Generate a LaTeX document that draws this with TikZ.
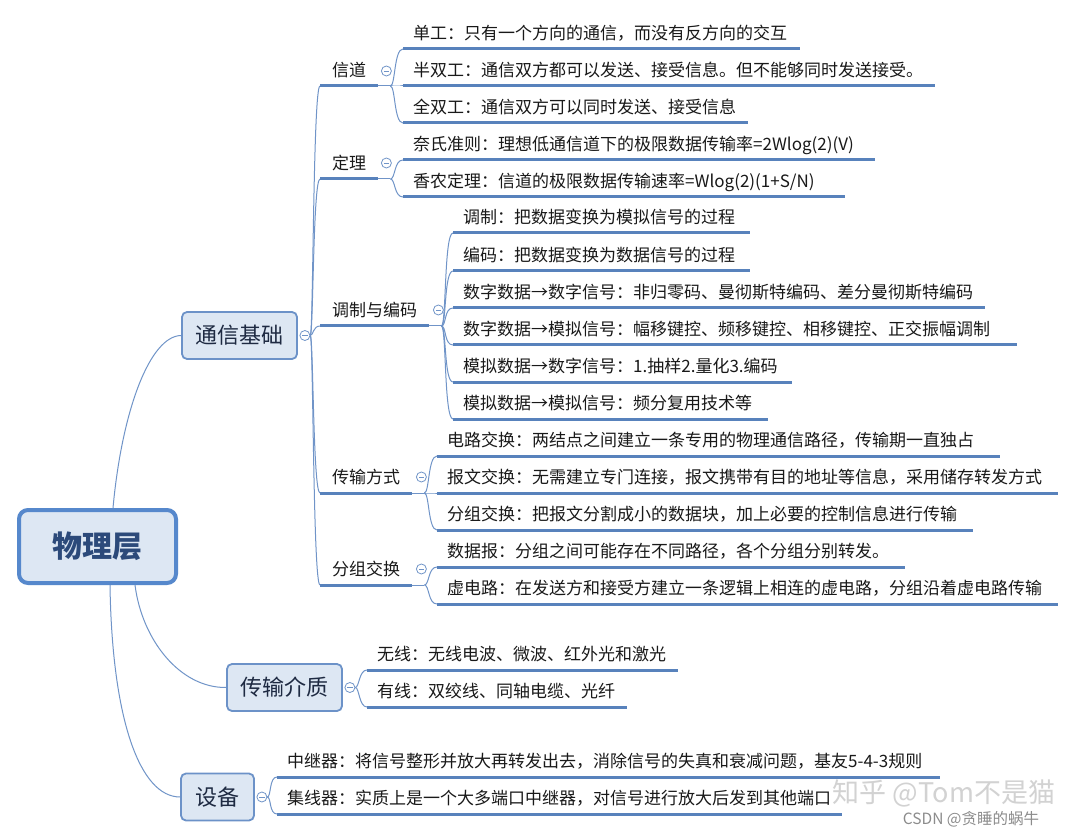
\documentclass[tikz,border=0pt]{standalone}
\usepackage{fontspec}
\setmainfont{Noto Sans CJK SC}
\usetikzlibrary{calc}
\definecolor{conncol}{RGB}{112,148,200}
\definecolor{ulcol}{RGB}{88,130,188}
\definecolor{boxfill}{RGB}{221,231,243}
\definecolor{boxdraw}{RGB}{108,146,200}
\definecolor{rootdraw}{RGB}{86,136,204}
\definecolor{roottext}{RGB}{44,74,122}
\definecolor{lonetext}{RGB}{30,42,66}
\definecolor{leaftext}{RGB}{25,25,25}
\definecolor{wmcol}{RGB}{210,210,210}
\definecolor{wmcoltwo}{RGB}{140,140,140}
\pgfdeclarelayer{bgfill}
\pgfdeclarelayer{lines}
\pgfsetlayers{bgfill,lines,main}
\begin{document}
\begin{tikzpicture}[x=1pt,y=-1pt,
  rootbox/.style={draw=rootdraw, line width=4pt, fill=boxfill, rounded corners=9pt,
    minimum width=157pt, minimum height=73pt, inner sep=0pt, text=roottext,
    font=\fontsize{30}{34}\selectfont\bfseries},
  topicbox/.style={draw=boxdraw, line width=1.8pt, fill=boxfill, rounded corners=5pt,
    minimum height=47pt, inner xsep=13pt, text=lonetext, font=\fontsize{22}{26}\selectfont},
  sub/.style={anchor=south west, inner xsep=12pt, inner ysep=9.5pt, text height=12pt,
    text depth=0pt, text=leaftext, font=\fontsize{17}{20}\selectfont},
  leaf/.style={anchor=south west, inner xsep=10pt, inner ysep=9.5pt, text height=12pt,
    text depth=0pt, text width=#1, align=left, text=leaftext, font=\fontsize{17}{20}\selectfont},
  uline/.style={draw=ulcol, line width=3pt},
  conn/.style={draw=conncol, line width=1pt},
  collapse/.style={circle, draw=conncol, line width=0.8pt, fill=white, minimum size=10pt, inner sep=0pt,
    path picture={\draw[conncol, line width=0.8pt] ([xshift=-2.6pt]path picture bounding box.center) -- ([xshift=2.6pt]path picture bounding box.center);}},
  wmbig/.style={text=wmcol, font=\fontsize{27}{30}\selectfont, inner sep=0pt},
  wmsmall/.style={text=wmcoltwo, font=\fontsize{15.5}{18}\selectfont, inner sep=0pt}
]
\useasboundingbox (0,0) rectangle (1072,837);
\begin{pgfonlayer}{bgfill}
\fill[white] (0,0) rectangle (1072,837);
\end{pgfonlayer}

% watermark
\node[wmbig] (wma) at (944,793) {知乎 @Tom不是猫};
\node[wmsmall] (wmb) at (971,819) {CSDN @贪睡的蜗牛};

% root and main topics
\node[rootbox] (root) at (97.5,546.5) {物理层};
\node[topicbox, minimum width=115pt] (txjc) at (239.5,335.5) {通信基础};
\node[topicbox, minimum width=115pt] (csjz) at (284.5,687.5) {传输介质};
\node[topicbox, minimum width=73pt] (sb) at (217.5,797) {设备};

% level 2
\node[sub] (xd) at (320,86) {信道};
\node[sub] (dl) at (320,179) {定理};
\node[sub] (tzbm) at (320,326) {调制与编码};
\node[sub] (csfs) at (320,493) {传输方式};
\node[sub] (fzjh) at (320,585) {分组交换};

% leaves
\node[leaf=377pt] (a1) at (403,49) {单工：只有一个方向的通信，而没有反方向的交互};
\node[leaf=512pt] (a2) at (403,86) {半双工：通信双方都可以发送、接受信息。但不能够同时发送接受。};
\node[leaf=325pt] (a3) at (403,123) {全双工：通信双方可以同时发送、接受信息};
\node[leaf=452pt] (b1) at (403,160) {奈氏准则：理想低通信道下的极限数据传输率=2Wlog(2)(V)};
\node[leaf=422pt] (b2) at (403,197) {香农定理：信道的极限数据传输速率=Wlog(2)(1+S/N)};
\node[leaf=277pt] (c1) at (453,233) {调制：把数据变换为模拟信号的过程};
\node[leaf=277pt] (c2) at (453,271) {编码：把数据变换为数据信号的过程};
\node[leaf=512pt] (c3) at (453,308) {数字数据→数字信号：非归零码、曼彻斯特编码、差分曼彻斯特编码};
\node[leaf=544pt] (c4) at (453,345) {数字数据→模拟信号：幅移键控、频移键控、相移键控、正交振幅调制};
\node[leaf=319pt] (c5) at (453,382) {模拟数据→数字信号：1.抽样2.量化3.编码};
\node[leaf=295pt] (c6) at (453,419) {模拟数据→模拟信号：频分复用技术等};
\node[leaf=543pt] (d1) at (437,456) {电路交换：两结点之间建立一条专用的物理通信路径，传输期一直独占};
\node[leaf=601pt] (d2) at (437,493) {报文交换：无需建立专门连接，报文携带有目的地址等信息，采用储存转发方式};
\node[leaf=516pt] (d3) at (437,530) {分组交换：把报文分割成小的数据块，加上必要的控制信息进行传输};
\node[leaf=448pt] (e1) at (437,567) {数据报：分组之间可能存在不同路径，各个分组分别转发。};
\node[leaf=601pt] (e2) at (437,604) {虚电路：在发送方和接受方建立一条逻辑上相连的虚电路，分组沿着虚电路传输};
\node[leaf=291pt] (f1) at (367,670) {无线：无线电波、微波、红外光和激光};
\node[leaf=240pt] (f2) at (367,707) {有线：双绞线、同轴电缆、光纤};
\node[leaf=643pt] (g1) at (277,777) {\mbox{中继器：将信号整形并放大再转发出去，消除信号的失真和衰减问题，基友5-4-3规则}};
\node[leaf=545pt] (g2) at (277,814) {集线器：实质上是一个大多端口中继器，对信号进行放大后发到其他端口};

% underlines
\foreach \n in {xd,dl,tzbm,csfs,fzjh,a1,a2,a3,b1,b2,c1,c2,c3,c4,c5,c6,d1,d2,d3,e1,e2,f1,f2,g1,g2}
  \draw[uline] (\n.south west) -- (\n.south east);

% collapse markers
\node[collapse] (k1) at ($(txjc.east)+(7,0)$) {};
\node[collapse] (k2) at ($(csjz.east)+(7,0)$) {};
\node[collapse] (k3) at ($(sb.east)+(7,0)$) {};
\node[collapse] (kxd) at ($(xd.south east)+(8,-15)$) {};
\node[collapse] (kdl) at ($(dl.south east)+(8,-16)$) {};
\node[collapse] (ktzbm) at ($(tzbm.south east)+(9,-16)$) {};
\node[collapse] (kcsfs) at ($(csfs.south east)+(9,-16)$) {};
\node[collapse] (kfzjh) at ($(fzjh.south east)+(9,-16)$) {};

% fan origins
\coordinate (xdF) at ($(xd.south east)+(12,0)$);
\coordinate (dlF) at ($(dl.south east)+(12,0)$);
\coordinate (tzbmF) at ($(tzbm.south east)+(12,0)$);
\coordinate (csfsF) at ($(csfs.south east)+(12,0)$);
\coordinate (fzjhF) at ($(fzjh.south east)+(12,0)$);

\begin{pgfonlayer}{lines}
% root connectors
\draw[conn] ([xshift=15.5pt]root.north) .. controls (122,410) and (150,336) .. (txjc.west);
\draw[conn] ([xshift=37.5pt]root.south) .. controls (142,640) and (180,688) .. (csjz.west);
\draw[conn] ([xshift=12.5pt]root.south) .. controls (112,720) and (140,797) .. (sb.west);
% main topic fans
\foreach \n in {xd,dl,tzbm,csfs,fzjh}
  \draw[conn] (k1.east) .. controls +(3,0) and +(-7,0) .. (\n.south west);
\foreach \n in {f1,f2}
  \draw[conn] (k2.east) .. controls +(4,0) and +(-8,0) .. (\n.south west);
\foreach \n in {g1,g2}
  \draw[conn] (k3.east) .. controls +(4,0) and +(-8,0) .. (\n.south west);
% level 2 fans
\draw[conn] (xd.south east) -- (xdF);
\foreach \n in {a1,a2,a3}
  \draw[conn] (xdF) .. controls +(5,0) and +(-9,0) .. (\n.south west);
\draw[conn] (dl.south east) -- (dlF);
\foreach \n in {b1,b2}
  \draw[conn] (dlF) .. controls +(5,0) and +(-9,0) .. (\n.south west);
\draw[conn] (tzbm.south east) -- (tzbmF);
\foreach \n in {c1,c2,c3,c4,c5,c6}
  \draw[conn] (tzbmF) .. controls +(5,0) and +(-9,0) .. (\n.south west);
\draw[conn] (csfs.south east) -- (csfsF);
\foreach \n in {d1,d2,d3}
  \draw[conn] (csfsF) .. controls +(5,0) and +(-9,0) .. (\n.south west);
\draw[conn] (fzjh.south east) -- (fzjhF);
\foreach \n in {e1,e2}
  \draw[conn] (fzjhF) .. controls +(5,0) and +(-9,0) .. (\n.south west);
\end{pgfonlayer}
\end{tikzpicture}
\end{document}
